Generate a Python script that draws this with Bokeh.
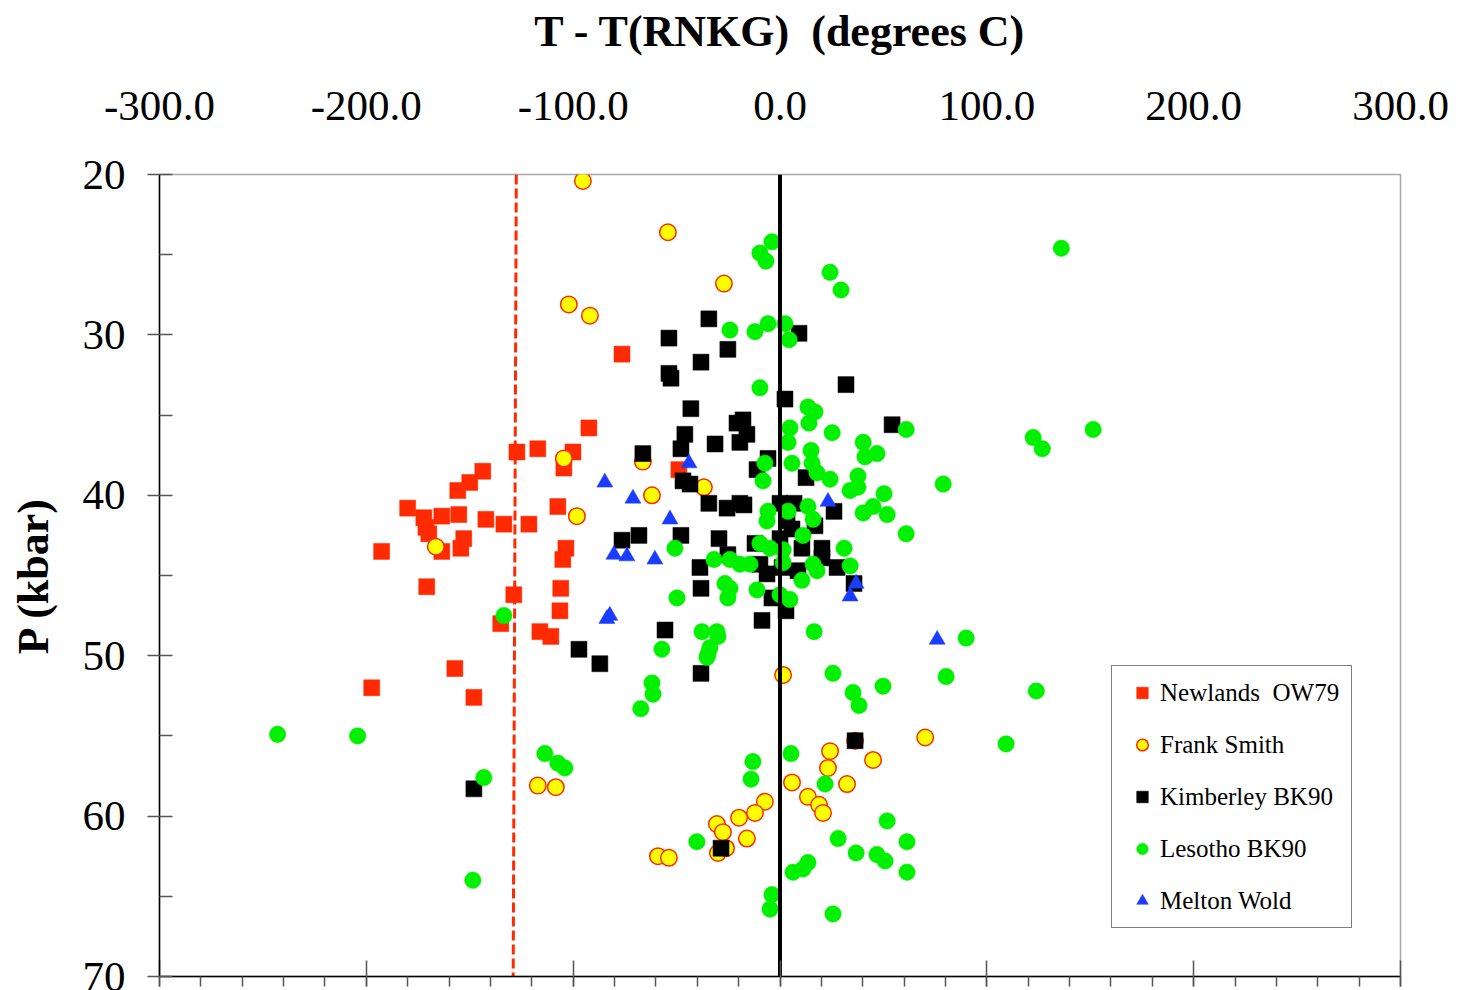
from bokeh.plotting import figure
from bokeh.models import (Range1d, LinearAxis, FixedTicker, NumeralTickFormatter,
                          CustomJSTickFormatter, Legend, LegendItem, Grid)
from bokeh.embed import file_html
from bokeh.resources import INLINE

# ---- data: temperature offset from the RNKG geotherm (deg C) and pressure (kbar)
newlands_dt = [-76.4, -92.4, -127.2, -117.1, -100.1, -104.5, -143.7, -150.0, -155.8, -180.0,
               -172.2, -171.2, -169.8, -163.5, -155.3, -142.2, -133.5, -121.4, -107.4, -152.9,
               -154.3, -163.5, -192.6, -103.5, -105.0, -106.0, -170.8, -128.7, -106.4, -135.0,
               -116.1, -110.8, -157.2, -197.4, -148.0, -48.9]
newlands_p = [31.2, 35.8, 37.3, 37.1, 37.3, 38.3, 38.5, 39.2, 39.7, 40.8,
              41.4, 42.0, 42.4, 41.3, 41.2, 41.5, 41.8, 41.8, 40.7, 42.7,
              43.3, 43.5, 43.5, 43.3, 44.0, 45.8, 45.7, 46.2, 47.2, 48.0,
              48.5, 48.8, 50.8, 52.0, 52.6, 38.4]

frank_dt = [-95.3, -54.2, -27.1, -102.1, -91.9, -104.5, -66.3, -98.2, -166.4, -61.9,
            -36.8, 1.5, 70.2, 36.3, 24.2, 23.2, 45.0, 32.4, 5.8, 13.5,
            18.9, 20.8, -7.3, -12.1, -19.8, -30.5, -27.6, -16.0, -30.0, -26.1,
            -59.0, -53.7, -117.1, -108.4]
frank_p = [20.4, 23.6, 26.8, 28.1, 28.8, 37.7, 37.9, 41.3, 43.2, 40.0,
           39.5, 51.2, 55.1, 55.3, 55.95, 57.0, 56.5, 58.0, 57.9, 58.8,
           59.3, 59.8, 59.1, 59.8, 60.1, 60.5, 61.0, 61.4, 62.3, 62.0,
           62.5, 62.6, 58.1, 58.2]

kimberley_dt = [-34.4, -53.7, 9.2, -25.2, -38.2, -53.7, -52.7, 31.9, 2.4, -43.1,
                -17.9, -20.8, 54.2, -46.0, -16.0, -31.4, -19.4, -47.9, -5.8, -11.1,
                -66.3, 12.6, -46.9, -43.5, -34.4, -25.6, -19.4, -17.4, 0.0, 6.8,
                26.1, -47.9, -29.5, -12.1, 0.0, 3.4, 5.8, 16.9, 10.6, 20.3,
                20.3, -25.2, -38.7, -6.3, -9.7, 1.0, 8.7, 27.6, 35.8, -38.2,
                -3.9, 2.9, -8.7, -55.6, -76.4, -68.2, -97.2, -87.1, -38.2, 36.3,
                -28.5, -148.0]
kimberley_p = [29.0, 30.2, 29.9, 30.9, 31.7, 32.4, 32.7, 33.1, 34.0, 34.6,
               35.3, 35.5, 35.6, 36.2, 36.2, 36.8, 36.7, 37.1, 37.7, 38.4,
               37.4, 38.9, 39.1, 39.3, 40.5, 40.8, 40.5, 40.6, 40.5, 40.5,
               41.0, 42.5, 42.7, 43.0, 42.7, 41.6, 42.1, 41.9, 43.3, 43.3,
               43.9, 43.7, 44.5, 44.9, 44.3, 44.5, 44.7, 44.5, 45.5, 45.8,
               46.4, 47.2, 47.8, 48.4, 42.8, 42.5, 49.6, 50.5, 51.1, 55.3,
               62.0, 58.3]

lesotho_dt = [-3.9, -9.7, -6.8, 24.2, 29.5, -24.2, -12.1, -5.8, 2.4, 4.4,
              -9.7, 61.0, 4.8, 14.0, 16.9, 13.5, 25.2, 40.2, 46.9, 41.1,
              15.0, 3.9, -7.3, 5.8, 15.5, 17.9, 24.2, -8.2, 37.7, 37.7,
              33.9, 78.9, 50.3, 13.5, 3.9, -5.8, -6.3, 16.0, 40.2, 45.0,
              51.8, 11.1, 61.0, -50.8, -9.7, -4.8, 1.5, 1.5, 16.0, 17.9,
              31.0, 33.9, -31.9, -24.2, -19.4, -14.5, 10.6, -26.6, -24.2, -25.2,
              -11.1, 0.0, 4.8, -49.8, -37.7, -30.5, -30.0, -33.9, -34.8, 16.5,
              -57.1, -35.3, -61.9, -61.4, -67.3, 25.6, 80.3, 49.8, 35.3, 38.2,
              5.3, -13.1, -14.0, 21.8, 51.8, 28.1, 61.4, -40.2, 36.8, 46.9,
              50.8, 61.4, 13.5, 11.1, 6.3, -3.9, -4.8, 25.6, 136.0, 122.4,
              126.8, 151.4, 90.0, 123.9, 109.3, -133.5, -242.9, -204.2, -113.7, -107.4,
              -104.0, -143.2, -148.5]
lesotho_p = [24.2, 24.9, 25.4, 26.1, 27.2, 29.7, 29.8, 29.3, 29.3, 30.3,
             33.3, 35.9, 35.8, 35.5, 34.8, 34.5, 36.1, 36.7, 37.4, 37.6,
             37.2, 36.7, 38.0, 38.0, 38.0, 38.6, 39.0, 39.1, 38.8, 39.5,
             39.7, 39.3, 39.9, 40.7, 41.0, 41.0, 41.6, 41.5, 41.1, 40.7,
             41.2, 42.5, 42.4, 43.3, 43.0, 43.3, 43.4, 44.2, 44.3, 44.7,
             43.3, 44.4, 44.0, 44.0, 44.3, 44.3, 45.3, 45.5, 45.8, 46.4,
             45.9, 46.2, 46.5, 46.4, 48.5, 48.5, 48.8, 49.5, 49.9, 48.5,
             49.6, 50.1, 51.7, 52.4, 53.3, 51.1, 51.3, 51.9, 52.3, 53.1,
             56.1, 56.6, 57.7, 58.0, 60.3, 61.4, 61.6, 61.6, 62.3, 62.4,
             62.8, 63.5, 62.9, 63.3, 63.5, 64.9, 65.8, 66.1, 24.6, 36.4,
             37.1, 35.9, 48.9, 52.2, 55.5, 47.5, 54.9, 55.0, 56.1, 56.7,
             57.0, 57.6, 64.0]

melton_dt = [-84.7, -71.1, -80.3, -74.0, -83.7, -82.3, -44.0, -53.2, -60.5, 23.2,
             36.8, 33.9, 76.0]
melton_p = [39.2, 40.2, 43.7, 43.8, 47.7, 47.5, 38.0, 41.5, 44.0, 40.4,
            45.5, 46.3, 49.0]

# reference lines: RNKG geotherm (dT = 0) and the dashed trend line
zero_dt = [0.0, 0.0]
zero_p = [20.0, 70.0]
dashed_dt = [-127.5, -129.0]
dashed_p = [20.0, 70.0]

x_ticks = [-300, -200, -100, 0, 100, 200, 300]
x_minor = list(range(-300, 301, 20))
p_ticks = [20, 30, 40, 50, 60, 70]
p_minor = [25, 35, 45, 55, 65]

FONT = "Liberation Serif"
RED = "#FF2A00"

p = figure(frame_width=1241, frame_height=802,
           x_range=Range1d(-300, 300), y_range=Range1d(70, 20),
           x_axis_location=None, y_axis_location=None,
           output_backend="svg", toolbar_location=None,
           min_border_left=159, min_border_top=174,
           min_border_right=58, min_border_bottom=14,
           background_fill_color="white", border_fill_color="white")
p.outline_line_color = "#a8a8a8"
p.outline_line_width = 1.5

# no grid lines on this chart
p.center = [r for r in p.center if not isinstance(r, Grid)]

# ---- scatter series
r_new = p.scatter(newlands_dt, newlands_p, marker="square", size=16,
                  fill_color=RED, line_color=RED, line_width=0.5)
r_frank = p.scatter(frank_dt, frank_p, marker="circle", size=16.5,
                    fill_color="#FFFF00", line_color=RED, line_width=1.5)
r_kim = p.scatter(kimberley_dt, kimberley_p, marker="square", size=16,
                  fill_color="black", line_color="black", line_width=0.5)
r_les = p.scatter(lesotho_dt, lesotho_p, marker="circle", size=16.5,
                  fill_color="#00F000", line_color="#00F000", line_width=0.5)
r_mel = p.scatter(melton_dt, melton_p, marker="triangle", size=16,
                  fill_color="#1A3CFF", line_color="#1A3CFF", line_width=0.5)

# ---- reference lines
p.line(zero_dt, zero_p, line_color="black", line_width=4)
p.line(dashed_dt, dashed_p, line_color=RED, line_width=3, line_dash="10 4")

# ---- axes
left = LinearAxis(ticker=FixedTicker(ticks=p_ticks, minor_ticks=p_minor),
                  axis_label="P (kbar)")
left.axis_line_color = "black"
left.axis_line_width = 1.5
left.major_tick_line_color = "#555555"
left.minor_tick_line_color = "#555555"
left.major_tick_line_width = 1.5
left.minor_tick_line_width = 1.5
left.major_tick_in = 13
left.major_tick_out = 12
left.minor_tick_in = 13
left.minor_tick_out = 0
left.major_label_standoff = 22
left.major_label_text_font = FONT
left.major_label_text_font_size = "43px"
left.major_label_text_color = "black"
left.axis_label_text_font = FONT
left.axis_label_text_font_size = "44px"
left.axis_label_text_font_style = "bold"
left.axis_label_text_color = "black"
left.axis_label_standoff = 22
p.add_layout(left, "left")

bottom = LinearAxis(ticker=FixedTicker(ticks=x_ticks, minor_ticks=x_minor),
                    formatter=CustomJSTickFormatter(code="return ''"))
bottom.axis_line_color = "black"
bottom.axis_line_width = 1.5
bottom.major_tick_line_color = "#555555"
bottom.minor_tick_line_color = "#555555"
bottom.major_tick_line_width = 1.5
bottom.minor_tick_line_width = 1.5
bottom.major_tick_in = 16
bottom.major_tick_out = 10
bottom.minor_tick_in = 0
bottom.minor_tick_out = 10
bottom.major_label_standoff = 0
p.add_layout(bottom, "below")

top = LinearAxis(ticker=FixedTicker(ticks=x_ticks, minor_ticks=[]),
                 formatter=NumeralTickFormatter(format="0.0"),
                 axis_label="T - T(RNKG)\u00a0 (degrees C)")
top.axis_line_color = None
top.major_tick_line_color = None
top.minor_tick_line_color = None
top.major_tick_out = 0
top.major_tick_in = 0
top.major_label_standoff = 55
top.major_label_text_font = FONT
top.major_label_text_font_size = "43px"
top.major_label_text_color = "black"
top.axis_label_text_font = FONT
top.axis_label_text_font_size = "44px"
top.axis_label_text_font_style = "bold"
top.axis_label_text_color = "black"
top.axis_label_standoff = 33
p.add_layout(top, "above")

# ---- legend
legend = Legend(items=[
    LegendItem(label="Newlands  OW79", renderers=[r_new]),
    LegendItem(label="Frank Smith", renderers=[r_frank]),
    LegendItem(label="Kimberley BK90", renderers=[r_kim]),
    LegendItem(label="Lesotho BK90", renderers=[r_les]),
    LegendItem(label="Melton Wold", renderers=[r_mel]),
], location=(952, 48))
legend.border_line_color = "black"
legend.border_line_width = 1.5
legend.background_fill_color = "white"
legend.background_fill_alpha = 1.0
legend.label_text_font = FONT
legend.label_text_font_size = "25px"
legend.label_text_color = "black"
legend.padding = 12
legend.spacing = 23
legend.glyph_width = 36
legend.glyph_height = 29
legend.label_height = 29
legend.label_standoff = 0
legend.margin = 0
p.add_layout(legend)

open("out.html", "w").write(file_html(p, INLINE))
